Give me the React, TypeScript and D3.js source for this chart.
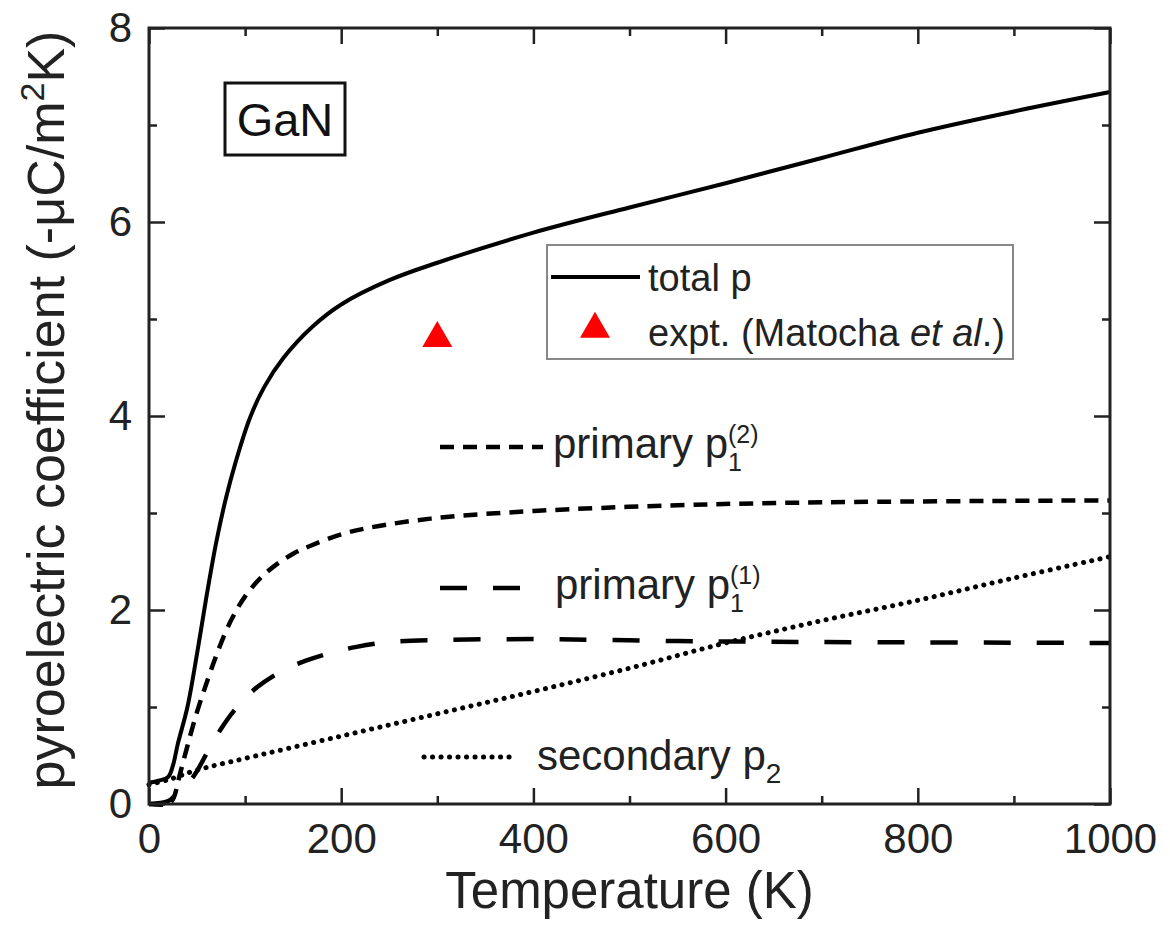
import * as d3 from "d3";
import { useEffect, useRef } from "react";

// total pyroelectric coefficient (solid)
const totalT = [0, 10, 20, 25, 30, 40, 50, 60, 70, 80, 90, 105, 120, 140, 170, 200, 250, 300, 400, 500, 600, 700, 800, 900, 1000];
const totalP = [0.22, 0.24, 0.28, 0.4, 0.62, 1.0, 1.55, 2.15, 2.7, 3.15, 3.52, 3.98, 4.3, 4.6, 4.92, 5.15, 5.4, 5.58, 5.89, 6.15, 6.4, 6.66, 6.92, 7.14, 7.34];

// primary p1(2) (short dash)
const p12T = [0, 20, 25, 32, 40, 50, 60, 70, 80, 90, 100, 115, 130, 150, 170, 200, 230, 300, 400, 550, 700, 1000];
const p12 = [0, 0, 0.05, 0.3, 0.6, 0.95, 1.25, 1.53, 1.78, 1.98, 2.14, 2.32, 2.45, 2.58, 2.67, 2.78, 2.85, 2.95, 3.02, 3.08, 3.11, 3.13];

// primary p1(1) (long dash)
const p11T = [0, 20, 30, 46, 60, 74, 90, 112, 140, 164, 190, 216, 250, 300, 400, 550, 700, 1000];
const p11 = [0, 0.03, 0.12, 0.28, 0.52, 0.76, 0.98, 1.2, 1.38, 1.48, 1.56, 1.62, 1.67, 1.69, 1.7, 1.68, 1.67, 1.66];

// secondary p2 (dotted)
const p2T = [0, 20, 50, 100, 200, 300, 400, 500, 600, 700, 800, 900, 1000];
const p2 = [0.2, 0.25, 0.35, 0.47, 0.7, 0.93, 1.16, 1.4, 1.66, 1.89, 2.1, 2.33, 2.55];

// experiment (Matocha et al.)
const exptT = [300];
const exptP = [4.8];

const xMajor = [0, 200, 400, 600, 800, 1000];
const xMinor = [100, 300, 500, 700, 900];
const yMajor = [0, 2, 4, 6, 8];
const yMinor = [1, 3, 5, 7];

const FONT = "'Liberation Sans', Arial, Helvetica, sans-serif";

const App = () => {
  const ref = useRef<SVGSVGElement>(null);

  useEffect(() => {
    const svg = d3.select(ref.current);
    svg.selectAll("*").remove();

    const left = 149, right = 1110, top = 28, bottom = 804;
    const x = d3.scaleLinear().domain([0, 1000]).range([left, right]);
    const y = d3.scaleLinear().domain([0, 8]).range([bottom, top]);

    const g = svg.append("g");

    const styleAxis = (sel: any) => {
      sel.select(".domain").remove();
      sel.selectAll("line").attr("stroke", "#222").attr("stroke-width", 2.5);
      sel.selectAll("text").attr("font-family", FONT).attr("font-size", 42).attr("fill", "#222");
    };

    // major ticks with labels
    g.append("g").attr("transform", `translate(0,${bottom})`)
      .call(d3.axisBottom(x).tickValues(xMajor).tickSizeInner(-16).tickSizeOuter(0).tickPadding(19).tickFormat(d3.format("d")))
      .call(styleAxis);
    g.append("g").attr("transform", `translate(${left},0)`)
      .call(d3.axisLeft(y).tickValues(yMajor).tickSizeInner(-16).tickSizeOuter(0).tickPadding(17).tickFormat(d3.format("d")))
      .call(styleAxis);
    g.append("g").attr("transform", `translate(0,${top})`)
      .call(d3.axisTop(x).tickValues(xMajor).tickSizeInner(-16).tickSizeOuter(0).tickFormat(() => ""))
      .call(styleAxis);
    g.append("g").attr("transform", `translate(${right},0)`)
      .call(d3.axisRight(y).tickValues(yMajor).tickSizeInner(-16).tickSizeOuter(0).tickFormat(() => ""))
      .call(styleAxis);

    // minor ticks
    g.append("g").attr("transform", `translate(0,${bottom})`)
      .call(d3.axisBottom(x).tickValues(xMinor).tickSizeInner(-8).tickSizeOuter(0).tickFormat(() => ""))
      .call(styleAxis);
    g.append("g").attr("transform", `translate(0,${top})`)
      .call(d3.axisTop(x).tickValues(xMinor).tickSizeInner(-8).tickSizeOuter(0).tickFormat(() => ""))
      .call(styleAxis);
    g.append("g").attr("transform", `translate(${left},0)`)
      .call(d3.axisLeft(y).tickValues(yMinor).tickSizeInner(-8).tickSizeOuter(0).tickFormat(() => ""))
      .call(styleAxis);
    g.append("g").attr("transform", `translate(${right},0)`)
      .call(d3.axisRight(y).tickValues(yMinor).tickSizeInner(-8).tickSizeOuter(0).tickFormat(() => ""))
      .call(styleAxis);

    // curves
    const line = d3.line<[number, number]>()
      .x(d => x(d[0]))
      .y(d => y(d[1]))
      .curve(d3.curveCatmullRom.alpha(0.5));

    const series = [
      { t: p2T, v: p2, dash: "0.1 8.4", width: 5, cap: "round" },
      { t: p11T, v: p11, dash: "27 26", width: 4.5, cap: "butt" },
      { t: p12T, v: p12, dash: "14 9", width: 4.5, cap: "butt" },
      { t: totalT, v: totalP, dash: null, width: 4, cap: "butt" },
    ];
    series.forEach(s => {
      const pts = s.t.map((t, i) => [t, s.v[i]] as [number, number]);
      g.append("path")
        .attr("d", line(pts))
        .attr("fill", "none")
        .attr("stroke", "#000")
        .attr("stroke-width", s.width)
        .attr("stroke-linecap", s.cap)
        .attr("stroke-dasharray", s.dash);
    });

    // frame
    g.append("rect")
      .attr("x", left).attr("y", top)
      .attr("width", right - left).attr("height", bottom - top)
      .attr("fill", "none").attr("stroke", "#222").attr("stroke-width", 3);

    // experiment point
    const tri = d3.symbol().type(d3.symbolTriangle).size(390);
    g.selectAll(".expt").data(exptT).enter().append("path")
      .attr("class", "expt")
      .attr("d", tri())
      .attr("transform", (d, i) => `translate(${x(d)},${y(exptP[i])})`)
      .attr("fill", "#f00");

    // GaN label
    g.append("rect").attr("x", 225).attr("y", 83).attr("width", 120).attr("height", 72)
      .attr("fill", "#fff").attr("stroke", "#111").attr("stroke-width", 3);
    g.append("text").attr("x", 285).attr("y", 136).attr("text-anchor", "middle")
      .attr("font-family", FONT).attr("font-size", 47).attr("fill", "#111").text("GaN");

    // legend
    const lg = g.append("g");
    lg.append("rect").attr("x", 547).attr("y", 245).attr("width", 466).attr("height", 114)
      .attr("fill", "#fff").attr("stroke", "#888").attr("stroke-width", 2);
    lg.append("line").attr("x1", 551).attr("x2", 640).attr("y1", 277).attr("y2", 277)
      .attr("stroke", "#000").attr("stroke-width", 4);
    lg.append("text").attr("x", 648).attr("y", 291).attr("font-family", FONT).attr("font-size", 38)
      .attr("fill", "#222").text("total p");
    lg.append("path").attr("d", tri()).attr("transform", "translate(595,329)").attr("fill", "#f00");
    const et = lg.append("text").attr("x", 648).attr("y", 346).attr("font-family", FONT)
      .attr("font-size", 38).attr("fill", "#222");
    et.append("tspan").text("expt. (Matocha ");
    et.append("tspan").attr("font-style", "italic").text("et al");
    et.append("tspan").text(".)");

    // inline labels
    const inline = [
      { x1: 440, x2: 543, y: 447, dash: "14 9", width: 4.5, cap: "butt", tx: 553, ty: 458, main: "primary p", sub: "1", sup: "(2)" },
      { x1: 440, x2: 523, y: 588, dash: "27 26", width: 4.5, cap: "butt", tx: 555, ty: 599, main: "primary p", sub: "1", sup: "(1)" },
      { x1: 424, x2: 516, y: 757, dash: "0.1 8.4", width: 5, cap: "round", tx: 537, ty: 770, main: "secondary p", sub: "2", sup: null },
    ];
    inline.forEach(d => {
      g.append("line").attr("x1", d.x1).attr("x2", d.x2).attr("y1", d.y).attr("y2", d.y)
        .attr("stroke", "#000").attr("stroke-width", d.width)
        .attr("stroke-linecap", d.cap).attr("stroke-dasharray", d.dash);
      const t = g.append("text").attr("x", d.tx).attr("y", d.ty).attr("font-family", FONT)
        .attr("font-size", 42).attr("fill", "#222");
      t.append("tspan").text(d.main);
      t.append("tspan").attr("font-size", d.sup ? 25 : 28).attr("dy", 13).text(d.sub);
      if (d.sup) t.append("tspan").attr("font-size", 25).attr("dx", -13.9).attr("dy", -28).text(d.sup);
    });

    // axis titles
    g.append("text").attr("x", (left + right) / 2).attr("y", 908).attr("text-anchor", "middle")
      .attr("font-family", FONT).attr("font-size", 51).attr("fill", "#222").text("Temperature (K)");
    const yt = g.append("text").attr("transform", `translate(64,${(top + bottom) / 2 - 6}) rotate(-90)`)
      .attr("text-anchor", "middle").attr("font-family", FONT).attr("font-size", 52).attr("fill", "#222");
    yt.append("tspan").text("pyroelectric coefficient (-\u03bcC/m");
    yt.append("tspan").attr("font-size", 34).attr("dy", -20).text("2");
    yt.append("tspan").attr("dy", 20).text("K)");
  }, []);

  return (
    <svg ref={ref} width={1170} height={933}
      style={{ position: "absolute", left: 0, top: 0, background: "#fff" }} />
  );
};

export default App;
